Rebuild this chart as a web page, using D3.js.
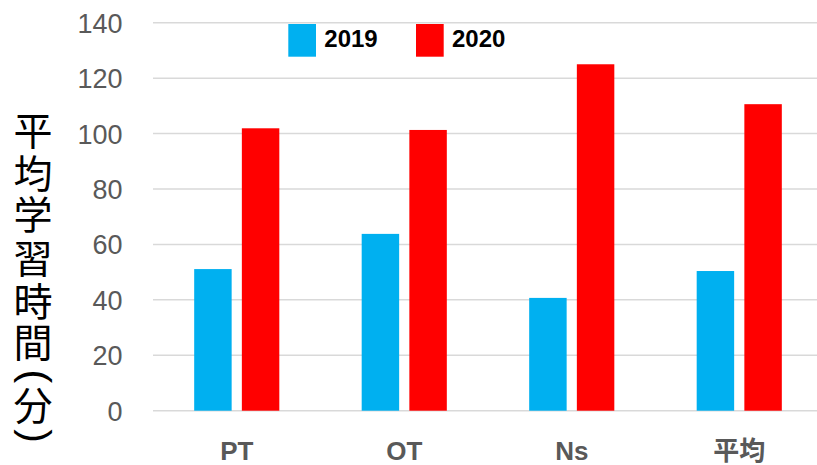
<!DOCTYPE html>
<html>
<head>
<meta charset="utf-8">
<script src="https://cdn.jsdelivr.net/npm/d3@7"></script>
<style>
  html, body { margin: 0; padding: 0; background: #fff; }
  svg { display: block; }
</style>
</head>
<body>
<svg id="chart" width="817" height="465"></svg>
<script>
const categories = ["PT", "OT", "Ns", "平均"];
const seriesNames = ["2019", "2020"];
const values2019 = [51.1, 63.8, 40.7, 50.4];
const values2020 = [101.9, 101.3, 125.0, 110.6];
const yTicks = [0, 20, 40, 60, 80, 100, 120, 140];
const yTitleChars = ["平", "均", "学", "習", "時", "間", "(", "分", ")"];
const colors = ["#00B0F0", "#FF0000"];

const svg = d3.select("#chart");
const W = 817, H = 465;
const plot = { left: 153, right: 823, top: 22.7, bottom: 410.7 };

const y = d3.scaleLinear().domain([0, 140]).range([plot.bottom, plot.top]);
const x = d3.scaleBand().domain(categories).range([plot.left, plot.right]).padding(0);
const x1 = d3.scaleBand().domain(seriesNames).range([0, x.bandwidth()])
  .paddingInner(0.214).paddingOuter(0.864);

// gridlines
svg.append("g").selectAll("line").data(yTicks).join("line")
  .attr("x1", plot.left).attr("x2", W)
  .attr("y1", d => y(d)).attr("y2", d => y(d))
  .attr("stroke", "#d9d9d9").attr("stroke-width", 1.5);

// y axis tick labels
const yAxis = d3.axisLeft(y).tickValues(yTicks).tickSize(0).tickPadding(0);
const gy = svg.append("g").attr("transform", `translate(122.5,0)`).call(yAxis);
gy.select(".domain").remove();
gy.selectAll("text")
  .attr("fill", "#595959")
  .attr("font-family", "'Liberation Sans', Arial, sans-serif")
  .attr("font-size", 27)
  .attr("dy", "0.35em");

// bars
const data = categories.map((c, i) => ({ cat: c, vals: [values2019[i], values2020[i]] }));
const groups = svg.append("g").selectAll("g").data(data).join("g")
  .attr("transform", d => `translate(${x(d.cat)},0)`);
groups.selectAll("rect").data(d => d.vals.map((v, j) => ({ s: seriesNames[j], v, j })))
  .join("rect")
  .attr("x", d => x1(d.s))
  .attr("width", x1.bandwidth())
  .attr("y", d => y(d.v))
  .attr("height", d => y(0) - y(d.v))
  .attr("fill", d => colors[d.j]);

// x axis labels
const xAxis = d3.axisBottom(x).tickSize(0).tickPadding(0);
const gx = svg.append("g").attr("transform", `translate(0,460)`).call(xAxis);
gx.select(".domain").remove();
gx.selectAll("text")
  .attr("y", 0).attr("dy", 0)
  .attr("fill", "#595959")
  .attr("font-weight", "bold")
  .attr("font-family", "'Liberation Sans', Arial, 'Noto Sans CJK JP', sans-serif")
  .attr("font-size", 26);

// legend
const legendX = [288.3, 416];
const lg = svg.append("g").selectAll("g").data(seriesNames).join("g")
  .attr("transform", (d, i) => `translate(${legendX[i]},24)`);
lg.append("rect").attr("width", 27.7).attr("height", 32.7).attr("fill", (d, i) => colors[i]);
lg.append("text").attr("x", 36).attr("y", 23.3).text(d => d)
  .attr("font-family", "'Liberation Sans', Arial, sans-serif")
  .attr("font-weight", "bold").attr("font-size", 24).attr("fill", "#000");

// y title: one text, stacked characters; parentheses rotated like vertical forms
const titleCenters = [130, 173, 214, 258, 301, 342, 377, 405.5, 435.5];
const cjkSize = 39, parenSize = 41, titleCx = 33;
const isParen = d => d === "(" || d === ")";
const title = svg.append("text").attr("fill", "#000").attr("text-anchor", "start");
title.selectAll("tspan").data(yTitleChars).join("tspan")
  .attr("font-family", d => isParen(d) ? "'Liberation Sans', sans-serif" : "'Noto Sans CJK JP', sans-serif")
  .attr("font-size", d => isParen(d) ? parenSize : cjkSize)
  .attr("rotate", d => isParen(d) ? 90 : 0)
  .attr("x", d => isParen(d) ? titleCx - 0.259 * parenSize : titleCx - cjkSize / 2)
  .attr("y", (d, i) => isParen(d)
      ? titleCenters[i] - (d === "(" ? 0.18 : 0.153) * parenSize
      : titleCenters[i] + 0.38 * cjkSize)
  .text(d => d);
</script>
</body>
</html>
